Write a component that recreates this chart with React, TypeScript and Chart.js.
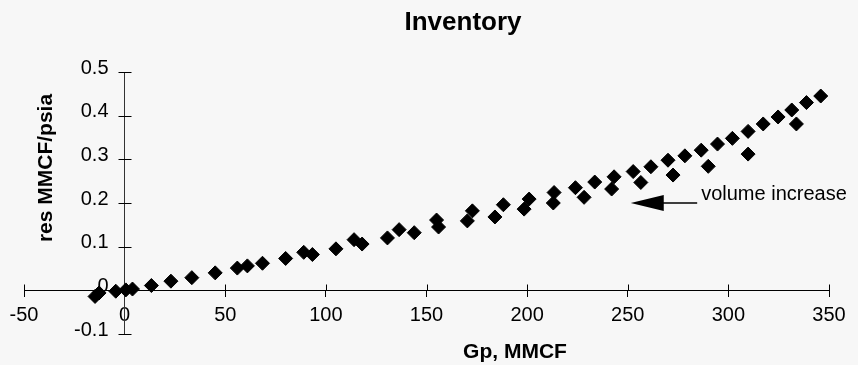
import React, { useEffect, useRef } from "react";
import { Chart, registerables } from "chart.js";

Chart.register(...registerables);

// ---- data ----
const gpMMCF = [
  -14.7, -12.7, -4.4, 0.6, 3.9, 13.3, 23, 33.4, 45, 56, 61, 68.5, 80, 89, 93.3,
  105, 114, 118, 130.6, 136.4, 143.9, 155, 156, 170.3, 172.8, 184, 188.2, 198.5,
  201, 213, 213.4, 224, 228.3, 233.6, 242, 243.2, 252.7, 256.5, 261.5, 270,
  272.5, 278.4, 286.5, 290, 294.6, 302, 309.8, 309.8, 317.3, 324.7, 331.5,
  333.8, 338.8, 345.9,
];
const resMMCFperPsia = [
  -0.014, -0.006, -0.002, 0.001, 0.003, 0.011, 0.021, 0.029, 0.04, 0.051, 0.056,
  0.062, 0.073, 0.087, 0.082, 0.095, 0.116, 0.106, 0.12, 0.139, 0.132, 0.161,
  0.145, 0.159, 0.182, 0.168, 0.196, 0.186, 0.209, 0.2, 0.224, 0.235, 0.213,
  0.248, 0.232, 0.26, 0.272, 0.247, 0.283, 0.298, 0.264, 0.308, 0.321, 0.284,
  0.335, 0.348, 0.312, 0.364, 0.381, 0.397, 0.413, 0.381, 0.43, 0.445,
];
const xMin = -50;
const xMax = 350;
const xStep = 50;
const yMin = -0.1;
const yMax = 0.5;
const yStep = 0.1;

const chartTitle = "Inventory";
const xAxisTitle = "Gp, MMCF";
const yAxisTitle = "res MMCF/psia";
const annotationText = "volume increase";
// arrow in data coordinates: tail (where the text starts) -> tip
const arrowTail = { x: 284.5, y: 0.2 };
const arrowTip = { x: 251.5, y: 0.2 };

const FONT = "'Liberation Sans', Arial, Helvetica, sans-serif";
const BG = "#f7f7f7";

const fmtY = (v: number) => (Math.abs(v) < 1e-9 ? "0" : v.toFixed(1));

const decorPlugin = {
  id: "decor",
  beforeDraw(chart: any) {
    const ctx = chart.ctx;
    ctx.save();
    ctx.fillStyle = BG;
    ctx.fillRect(0, 0, chart.width, chart.height);
    ctx.restore();
  },
  afterDraw(chart: any) {
    const ctx = chart.ctx;
    const xs = chart.scales.x;
    const ys = chart.scales.y;
    const x0 = Math.round(xs.getPixelForValue(0)) + 0.5;
    const y0 = Math.round(ys.getPixelForValue(0)) + 0.5;
    ctx.save();
    // crossing tick marks
    ctx.strokeStyle = "#000";
    ctx.lineWidth = 1;
    ctx.beginPath();
    xs.ticks.forEach((t: any) => {
      const px = Math.round(xs.getPixelForValue(t.value)) + 0.5;
      ctx.moveTo(px, y0 - 6);
      ctx.lineTo(px, y0);
    });
    ys.ticks.forEach((t: any) => {
      const py = Math.round(ys.getPixelForValue(t.value)) + 0.5;
      ctx.moveTo(x0 - 7, py);
      ctx.lineTo(x0 + 6, py);
    });
    ctx.stroke();

    // y tick labels, placed left of the y axis (which crosses at x = 0)
    ctx.fillStyle = "#000";
    ctx.font = `20px ${FONT}`;
    ctx.textAlign = "right";
    ctx.textBaseline = "middle";
    ys.ticks.forEach((t: any) => {
      const py = ys.getPixelForValue(t.value);
      ctx.fillText(fmtY(t.value), x0 - 17, py - 4);
    });

    // title
    ctx.textAlign = "center";
    ctx.textBaseline = "alphabetic";
    ctx.font = `bold 26px ${FONT}`;
    ctx.fillText(chartTitle, 463, 30);

    // x axis title
    ctx.font = `bold 21px ${FONT}`;
    ctx.fillText(xAxisTitle, 515, 358);

    // y axis title
    ctx.save();
    ctx.translate(52, 168);
    ctx.rotate(-Math.PI / 2);
    ctx.textAlign = "center";
    ctx.fillText(yAxisTitle, 0, 0);
    ctx.restore();

    // annotation arrow
    const tx = xs.getPixelForValue(arrowTail.x);
    const ty = ys.getPixelForValue(arrowTail.y);
    const hx = xs.getPixelForValue(arrowTip.x);
    const hy = ys.getPixelForValue(arrowTip.y);
    const headLen = 33;
    ctx.strokeStyle = "#000";
    ctx.lineWidth = 1.5;
    ctx.beginPath();
    ctx.moveTo(tx, ty);
    ctx.lineTo(hx + headLen - 2, hy);
    ctx.stroke();
    ctx.beginPath();
    ctx.moveTo(hx, hy);
    ctx.lineTo(hx + headLen, hy - 8);
    ctx.lineTo(hx + headLen, hy + 8);
    ctx.closePath();
    ctx.fill();

    ctx.font = `20px ${FONT}`;
    ctx.textAlign = "left";
    ctx.fillText(annotationText, tx + 4, ty - 3);
    ctx.restore();
  },
};

export default function App() {
  const canvasRef = useRef<HTMLCanvasElement | null>(null);

  useEffect(() => {
    if (!canvasRef.current) return;
    const points = gpMMCF.map((x, i) => ({ x, y: resMMCFperPsia[i] }));
    const chart = new Chart(canvasRef.current, {
      type: "scatter",
      data: {
        datasets: [
          {
            label: "res",
            data: points,
            pointStyle: "rectRot",
            pointRadius: 7,
            pointHoverRadius: 7,
            backgroundColor: "#000",
            borderColor: "#000",
            borderWidth: 1,
          },
        ],
      },
      options: {
        animation: false,
        responsive: false,
        events: [],
        layout: { padding: { left: 24, right: 29, top: 72, bottom: 31 } },
        plugins: {
          legend: { display: false },
          title: { display: false },
          tooltip: { enabled: false },
        },
        scales: {
          x: {
            type: "linear",
            position: { y: 0 } as any,
            min: xMin,
            max: xMax,
            ticks: {
              stepSize: xStep,
              color: "#000",
              font: { family: FONT, size: 20 },
              padding: 7,
              maxRotation: 0,
            },
            grid: {
              drawOnChartArea: false,
              drawTicks: true,
              tickLength: 6,
              color: "#000",
            },
            border: { display: true, color: "#000", width: 1 },
          },
          y: {
            type: "linear",
            position: { x: 0 } as any,
            min: yMin,
            max: yMax,
            ticks: {
              stepSize: yStep,
              display: false,
            },
            grid: {
              drawOnChartArea: false,
              drawTicks: false,
              color: "#000",
            },
            border: { display: true, color: "#333", width: 1, dash: [3, 1] },
          },
        },
      },
      plugins: [decorPlugin],
    });
    return () => chart.destroy();
  }, []);

  return (
    <div
      style={{
        position: "fixed",
        left: 0,
        top: 0,
        width: 858,
        height: 365,
        background: BG,
      }}
    >
      <canvas
        ref={canvasRef}
        width={858}
        height={365}
        style={{ display: "block" }}
      />
    </div>
  );
}
